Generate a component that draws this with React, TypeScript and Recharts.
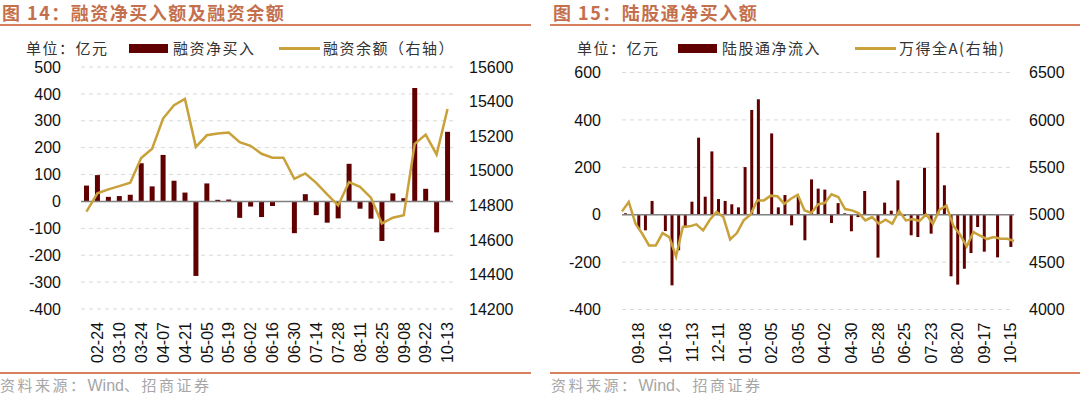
import React from "react";
import { ComposedChart, Bar, Line, XAxis, YAxis, CartesianGrid, ReferenceLine } from "recharts";

// 图14 融资
const marginDates = [
  "02-17", "02-24", "03-03", "03-10", "03-17", "03-24", "03-31", "04-07", "04-14", "04-21",
  "04-28", "05-05", "05-12", "05-19", "05-26", "06-02", "06-09", "06-16", "06-23", "06-30",
  "07-07", "07-14", "07-21", "07-28", "08-04", "08-11", "08-18", "08-25", "09-01", "09-08",
  "09-15", "09-22", "09-29", "10-13",
];
const marginTickLabels = [
  "02-24", "03-10", "03-24", "04-07", "04-21", "05-05", "05-19", "06-02", "06-16",
  "06-30", "07-14", "07-28", "08-11", "08-25", "09-08", "09-22", "10-13",
];
const marginNetBuy = [
  59, 98, 17, 20, 25, 142, 56, 173, 77, 33, -277, 67, 6, 7, -61, -19, -58,
  -17, 1, -118, 27, -51, -79, -63, 140, -27, -64, -147, 30, 12, 422, 47, -115, 259,
];
const marginBalance = [
  14763, 14869, 14892, 14911, 14930, 15073, 15127, 15302, 15379, 15415, 15138, 15205,
  15215, 15221, 15165, 15144, 15098, 15075, 15075, 14953, 14984, 14930, 14863, 14799,
  14934, 14907, 14844, 14695, 14728, 14743, 15155, 15209, 15094, 15357,
];
const marginLeftTicks = [-400, -300, -200, -100, 0, 100, 200, 300, 400, 500];
const marginRightTicks = [14200, 14400, 14600, 14800, 15000, 15200, 15400, 15600];

// 图15 陆股通
const hkDates = [
  "09-04", "09-11", "09-18", "09-25", "10-02", "10-09", "10-16", "10-23", "10-30", "11-06",
  "11-13", "11-20", "11-27", "12-04", "12-11", "12-18", "12-25", "01-01", "01-08", "01-15",
  "01-22", "01-29", "02-05", "02-12", "02-19", "02-26", "03-05", "03-12", "03-19", "03-26",
  "04-02", "04-09", "04-16", "04-23", "04-30", "05-07", "05-14", "05-21", "05-28", "06-04",
  "06-11", "06-18", "06-25", "07-02", "07-09", "07-16", "07-23", "07-30", "08-06", "08-13",
  "08-20", "08-27", "09-03", "09-10", "09-17", "09-24", "10-01", "10-08", "10-15",
];
const hkTickLabels = [
  "09-18", "10-16", "11-13", "12-11", "01-08", "02-05", "03-05", "04-02",
  "04-30", "05-28", "06-25", "07-23", "08-20", "09-17", "10-15",
];
const hkNetInflow = [
  6, 0, -59, -66, 58, 0, -69, -298, -150, -48, 55, 325, 76, 267, 66, 58, 44, 31, 201, 442,
  487, 0, 343, 31, 83, -45, 75, -108, 149, 110, 106, -35, 49, 6, -70, -10, 100, 2, -181, 51,
  17, 145, -5, -87, -94, 198, -80, 346, 124, -260, -295, -228, -162, -52, -156, 3, -180, 0, -136,
];
const windA = [
  5035, 5134, 4905, 4799, 4676, 4676, 4806, 4764, 4560, 4870, 4877, 4898, 4835, 4947, 5028,
  4975, 4739, 4806, 4940, 5000, 5151, 5151, 5201, 5194, 5116, 5169, 5211, 5046, 5018, 5109,
  5123, 5215, 5187, 5060, 5046, 5018, 4940, 4975, 4905, 4947, 4905, 5039, 4940, 4954, 4933,
  5004, 4905, 5053, 5095, 4887, 4792, 4665, 4817, 4778, 4743, 4764, 4746, 4746, 4722,
];
const hkLeftTicks = [-400, -200, 0, 200, 400, 600];
const hkRightTicks = [4000, 4500, 5000, 5500, 6000, 6500];

const marginData = marginDates.map((d, i) => ({ date: d, net: marginNetBuy[i], bal: marginBalance[i] }));
const hkData = hkDates.map((d, i) => ({ date: d, net: hkNetInflow[i], idx: windA[i] }));

const NUM_FONT = '"Liberation Sans", Arial, sans-serif';
const CJK_FONT = '"Noto Sans CJK SC", "Liberation Sans", sans-serif';
const BAR = "#600000";
const GOLD = "#C9A13B";
const ACCENT = "#C4704D";
const RULE = "#D7805F";

const yTick = { fontSize: 16, fill: "#111", fontFamily: NUM_FONT };

function DateTick(props: any) {
  const { x, y, payload, shown } = props;
  if (!shown.includes(payload.value)) return <g />;
  return (
    <text
      x={x}
      y={y}
      transform={`rotate(-90, ${x}, ${y})`}
      textAnchor="end"
      dy="0.36em"
      fontSize={16}
      fill="#111"
      fontFamily={NUM_FONT}
    >
      {payload.value}
    </text>
  );
}

function Header(props: { left: number; ruleLeft: number; ruleWidth: number; title: string }) {
  return (
    <>
      <div
        style={{
          position: "absolute", left: props.left, top: 2, fontSize: 18, lineHeight: "20px",
          fontWeight: "bold", color: ACCENT, fontFamily: CJK_FONT, letterSpacing: 1.5, whiteSpace: "nowrap",
        }}
      >
        {props.title}
      </div>
      <div style={{ position: "absolute", left: props.ruleLeft, top: 24, width: props.ruleWidth, height: 2, background: RULE }} />
      <div style={{ position: "absolute", left: props.ruleLeft, top: 372, width: props.ruleWidth, height: 2, background: RULE }} />
      <div
        style={{
          position: "absolute", left: props.left - 2, top: 375, fontSize: 15, lineHeight: "20px",
          color: "#A6A6A6", fontFamily: CJK_FONT, whiteSpace: "nowrap",
        }}
      >
        <span style={{ letterSpacing: 2.5 }}>资料来源：</span>
        <span style={{ fontFamily: NUM_FONT, fontSize: 16 }}>Wind</span>
        <span style={{ letterSpacing: 2.5 }}>、招商证券</span>
      </div>
    </>
  );
}

function LegendRow(props: { unitX: number; barX: number; barLabel: string; lineX: number; lineLabel: string }) {
  const text: React.CSSProperties = {
    position: "absolute", top: 38, fontSize: 15, lineHeight: "20px", color: "#333",
    fontFamily: CJK_FONT, letterSpacing: 1.5, whiteSpace: "nowrap",
  };
  return (
    <>
      <div style={{ ...text, left: props.unitX }}>单位：亿元</div>
      <div style={{ position: "absolute", left: props.barX, top: 44, width: 39, height: 9, background: BAR }} />
      <div style={{ ...text, left: props.barX + 44 }}>{props.barLabel}</div>
      <div style={{ position: "absolute", left: props.lineX, top: 47, width: 41, height: 3, background: GOLD }} />
      <div style={{ ...text, left: props.lineX + 44 }}>{props.lineLabel}</div>
    </>
  );
}

export default function App() {
  return (
    <div style={{ position: "absolute", left: 0, top: 0, width: 1080, height: 395, background: "#fff", overflow: "hidden" }}>
      <Header left={2} ruleLeft={0} ruleWidth={531} title="图 14：融资净买入额及融资余额" />
      <Header left={553} ruleLeft={550} ruleWidth={530} title="图 15：陆股通净买入额" />
      <LegendRow unitX={26} barX={129} barLabel="融资净买入" lineX={279} lineLabel="融资余额（右轴）" />
      <LegendRow unitX={577} barX={678} barLabel="陆股通净流入" lineX={855} lineLabel="万得全A(右轴)" />

      <div style={{ position: "absolute", left: 0, top: 0 }}>
        <ComposedChart width={530} height={370} data={marginData} margin={{ top: 67, right: 7, left: 0, bottom: 0 }}>
          <CartesianGrid yAxisId="l" vertical={false} stroke="#D9D9D9" strokeDasharray="4 4" />
          <XAxis
            dataKey="date"
            interval={0}
            height={61}
            axisLine={false}
            tickLine={false}
            tickMargin={7}
            tick={<DateTick shown={marginTickLabels} />}
          />
          <YAxis
            yAxisId="l"
            width={81}
            domain={[-400, 500]}
            ticks={marginLeftTicks}
            axisLine={false}
            tickLine={false}
            tickMargin={14}
            tick={yTick}
          />
          <YAxis
            yAxisId="r"
            orientation="right"
            width={70}
            domain={[14200, 15600]}
            ticks={marginRightTicks}
            axisLine={false}
            tickLine={false}
            tickMargin={10}
            tick={{ ...yTick, textAnchor: "start" }}
          />
          <ReferenceLine yAxisId="l" y={0} stroke="#808080" strokeWidth={1.5} />
          <Bar yAxisId="l" dataKey="net" fill={BAR} barSize={5} isAnimationActive={false} />
          <Line yAxisId="r" dataKey="bal" type="linear" stroke={GOLD} strokeWidth={2.5} dot={false} isAnimationActive={false} />
        </ComposedChart>
      </div>

      <div style={{ position: "absolute", left: 540, top: 0 }}>
        <ComposedChart width={540} height={370} data={hkData} margin={{ top: 72.5, right: 4, left: 0, bottom: 0 }}>
          <CartesianGrid yAxisId="l" vertical={false} stroke="#D9D9D9" strokeDasharray="4 4" />
          <XAxis
            dataKey="date"
            interval={0}
            height={60.5}
            axisLine={false}
            tickLine={false}
            tickMargin={7}
            tick={<DateTick shown={hkTickLabels} />}
          />
          <XAxis xAxisId="pt" dataKey="date" scale="point" hide padding={{ left: 0, right: 0 }} />
          <YAxis
            yAxisId="l"
            width={82}
            domain={[-400, 600]}
            ticks={hkLeftTicks}
            axisLine={false}
            tickLine={false}
            tickMargin={15}
            tick={yTick}
          />
          <YAxis
            yAxisId="r"
            orientation="right"
            width={62}
            domain={[4000, 6500]}
            ticks={hkRightTicks}
            axisLine={false}
            tickLine={false}
            tickMargin={9}
            tick={{ ...yTick, textAnchor: "start" }}
          />
          <ReferenceLine yAxisId="l" y={0} stroke="#808080" strokeWidth={1.5} />
          <Bar yAxisId="l" dataKey="net" fill={BAR} barSize={3} isAnimationActive={false} />
          <Line xAxisId="pt" yAxisId="r" dataKey="idx" type="linear" stroke={GOLD} strokeWidth={2.5} dot={false} isAnimationActive={false} />
        </ComposedChart>
      </div>
    </div>
  );
}
